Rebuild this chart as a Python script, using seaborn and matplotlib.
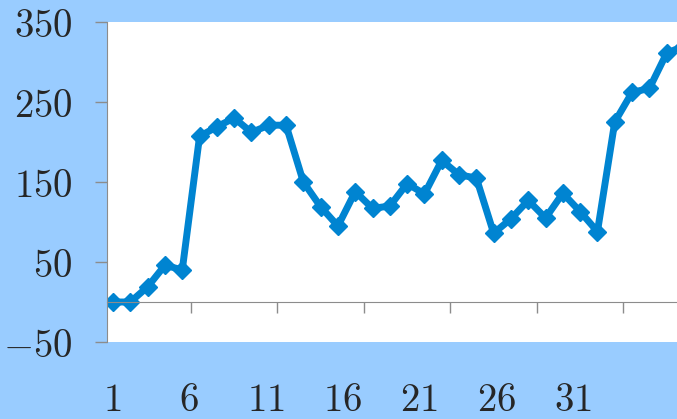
import matplotlib
matplotlib.use("Agg")
import matplotlib.pyplot as plt
import seaborn as sns
import pandas as pd

# Data
days = list(range(1, 35))
values = [0, 0, 19, 46, 40, 207, 219, 230, 212, 221,
          221, 150, 119, 95, 138, 117, 120, 148, 135, 177,
          159, 155, 86, 104, 127, 105, 136, 113, 88, 225,
          262, 267, 311, 320]
y_ticks = [-50, 50, 150, 250, 350]
y_labels = [r"$-50$", r"$50$", r"$150$", r"$250$", r"$350$"]
x_label_pos = [1, 6, 11, 16, 21, 26, 31]
x_labels = [rf"${v}$" for v in x_label_pos]
x_tick_pos = [5.5, 10.5, 15.5, 20.5, 25.5, 30.5]

df = pd.DataFrame({"day": days, "value": values})

sns.set_style("white")
plt.rcParams["mathtext.fontset"] = "cm"

bg = "#99CCFF"
line_color = "#0084D1"
axis_gray = "#8C8C8C"

fig = plt.figure(figsize=(6.77, 4.19), dpi=100, facecolor=bg)
ax = fig.add_axes([107 / 677, 77 / 419, 570 / 677, 320 / 419])
ax.set_facecolor("white")

sns.lineplot(data=df, x="day", y="value", ax=ax, color=line_color,
             linewidth=5, marker="D", markersize=9, markeredgewidth=1,
             markeredgecolor=line_color)

ax.set_xlim(0.65, 0.65 + 570 / 17.3)
ax.set_ylim(-50, 350)
ax.set_xlabel("")
ax.set_ylabel("")

# y axis
ax.set_yticks(y_ticks)
ax.set_yticklabels(y_labels, fontsize=28)
ax.tick_params(axis="y", direction="out", length=9, width=1, color=axis_gray,
               pad=16, left=True)

# x axis line at zero with category boundary ticks
ax.spines["bottom"].set_position(("data", 0))
ax.spines["bottom"].set_color(axis_gray)
ax.spines["left"].set_color(axis_gray)
ax.spines["top"].set_visible(False)
ax.spines["right"].set_visible(False)
ax.set_xticks(x_tick_pos)
ax.set_xticklabels([])
ax.tick_params(axis="x", direction="out", length=8, width=1, color=axis_gray,
               bottom=True)

# category labels sit below the plot area
ax2 = ax.twiny()
ax2.set_xlim(1 - 4.7 / 15.38, 1 + 565.3 / 15.38)
ax2.set_xticks(x_label_pos)
ax2.set_xticklabels(x_labels, fontsize=28)
ax2.xaxis.set_ticks_position("bottom")
ax2.xaxis.set_label_position("bottom")
ax2.tick_params(axis="x", length=0, pad=28, bottom=True, top=False,
                labelbottom=True, labeltop=False)
for s in ax2.spines.values():
    s.set_visible(False)

fig.savefig("out.png", dpi=100, facecolor=bg)
